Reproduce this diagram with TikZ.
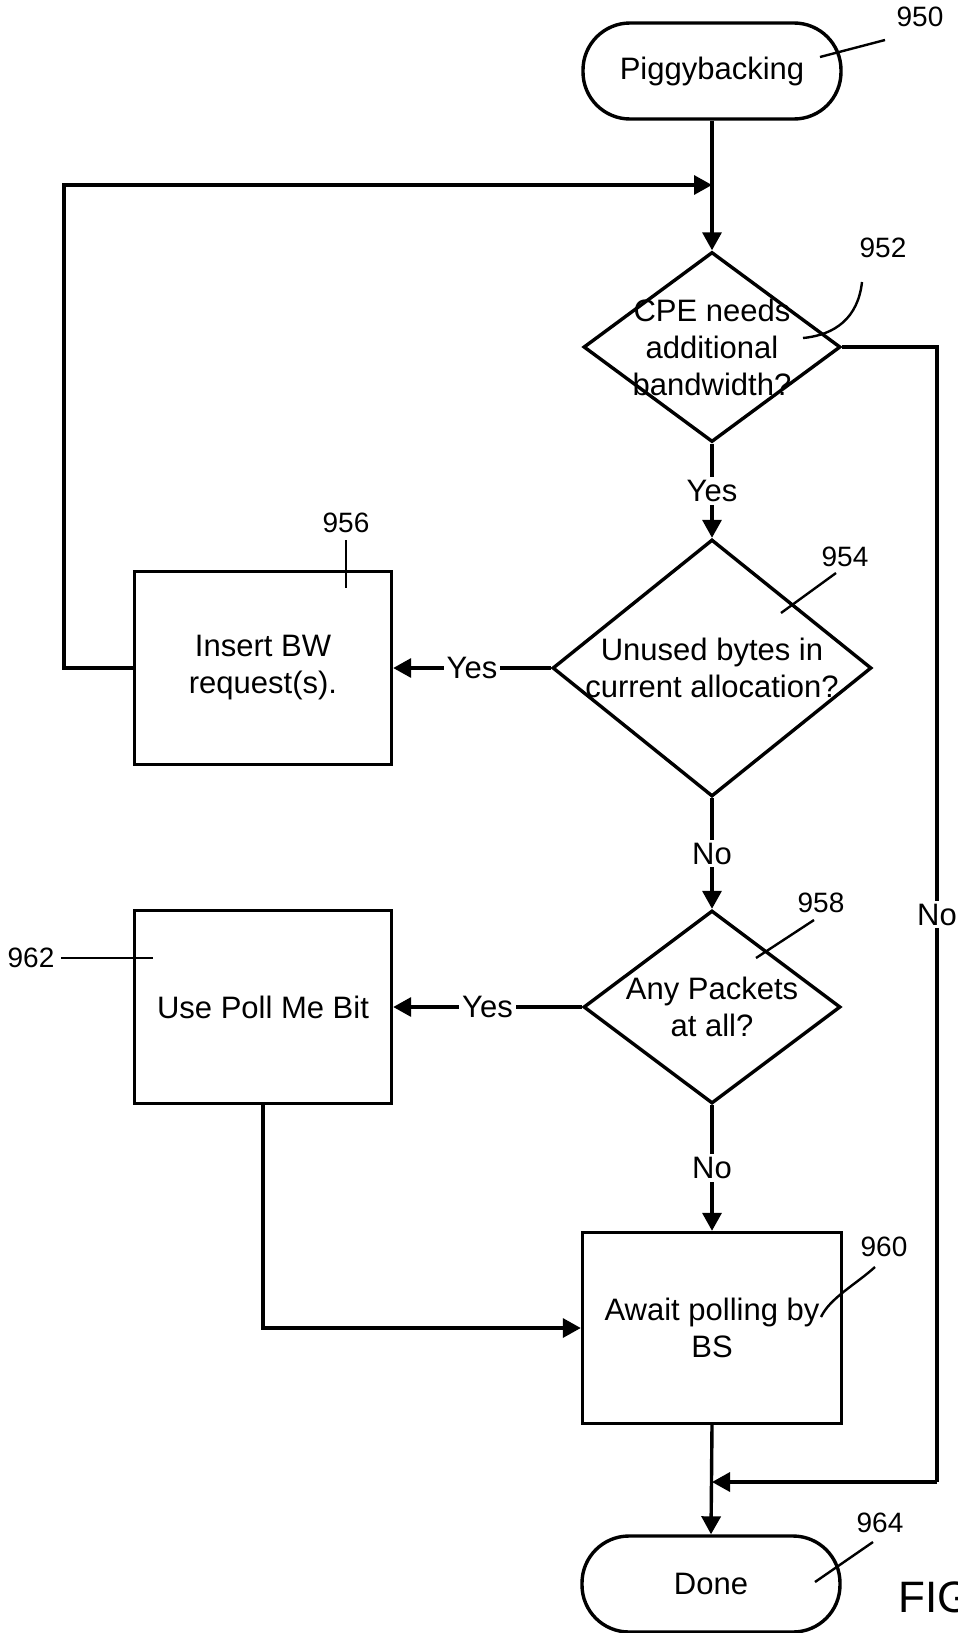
\documentclass[tikz,border=0pt]{standalone}
\usepackage{fontspec}
\setmainfont{Liberation Sans}
\usetikzlibrary{shapes.geometric,arrows.meta}
\begin{document}
\begin{tikzpicture}[x=0.5pt,y=-0.5pt,
  line width=1.7pt,
  every node/.style={font=\fontsize{15.5}{18.5}\selectfont},
  pill/.style={draw, rectangle, rounded corners=23.5pt, minimum width=129pt, minimum height=48pt, inner sep=0pt},
  dia/.style={draw, diamond, inner sep=0pt},
  box/.style={draw, rectangle, minimum width=128.5pt, minimum height=96.5pt, align=center, inner sep=0pt},
  arr/.style={-{Triangle[length=9pt,width=9.5pt]}},
  lbl/.style={fill=white, inner sep=1.5pt},
  num/.style={font=\fontsize{14}{16}\selectfont, inner sep=0pt},
  lead/.style={line width=1.2pt},
  dtext/.style={align=center, inner sep=0pt}
]
\useasboundingbox (0,0) rectangle (958,1633);

% nodes
\node[pill] (start) at (712,71) {Piggybacking};
\node[dia, minimum width=128.5pt, minimum height=95pt,
      label={[dtext]center:CPE needs\\additional\\bandwidth?}] (d1) at (712,347) {};
\node[dia, minimum width=159.5pt, minimum height=128.5pt,
      label={[dtext]center:Unused bytes in\\current allocation?}] (d2) at (712,668) {};
\node[dia, minimum width=128.5pt, minimum height=96.5pt,
      label={[dtext]center:Any Packets\\at all?}] (d3) at (712,1007) {};
\node[box] (b1) at (263,668) {Insert BW\\request(s).};
\node[box] (b2) at (263,1007) {Use Poll Me Bit};
\node[box, minimum width=129.5pt, minimum height=95.5pt] (b3) at (712,1328) {Await polling by\\BS};
\node[pill] (end) at (711,1584) {Done};

% junction coordinates
\coordinate (j1) at (712,185);
\coordinate (fbl) at (64,185);
\coordinate (nc) at (937,1482);
\coordinate (j2) at (712,1482);

% connectors
\draw[arr] (start.south) -- (d1.north);
\draw[arr] (b1.west) -| (fbl) -- (j1);
\draw[arr] (d1.south) -- node[lbl]{Yes} (d2.north);
\draw[arr] (d2.west) -- node[lbl]{Yes} (b1.east);
\draw[arr] (d2.south) -- node[lbl]{No} (d3.north);
\draw[arr] (d3.west) -- node[lbl]{Yes} (b2.east);
\draw[arr] (d3.south) -- node[lbl]{No} (b3.north);
\draw[arr] (b2.south) |- (b3.west);
\draw[arr] (b3.south) -- (end.north);
\draw (d1.east) -- (d1.east -| nc) -- node[lbl]{No} (nc);
\draw[arr] (nc) -- (j2);

% reference numerals
\node[num] (n950) at (920,17) {950};
\draw[lead] (885,40) -- (820,57);
\node[num] (n952) at (883,248) {952};
\draw[lead] (862,282) .. controls (858,318) and (835,335) .. (803,338);
\node[num] (n954) at (845,557) {954};
\draw[lead] (836,573) -- (781,613);
\node[num] (n956) at (346,523) {956};
\draw[lead] (346,540) -- (346,588);
\node[num] (n958) at (821,903) {958};
\draw[lead] (814,920) -- (756,958);
\node[num] (n960) at (884,1247) {960};
\draw[lead] (875,1267) .. controls (855,1285) and (830,1298) .. (821,1317);
\node[num] (n962) at (31,958) {962};
\draw[lead] (61,958) -- (153,958);
\node[num] (n964) at (880,1523) {964};
\draw[lead] (873,1542) -- (815,1582);

\node[anchor=base west, font=\fontsize{22}{26}\selectfont, inner sep=0pt] (fig) at (897,1612) {FIG};
\end{tikzpicture}
\end{document}
